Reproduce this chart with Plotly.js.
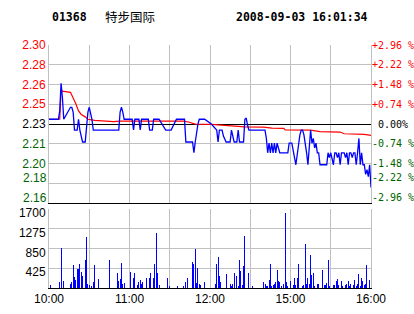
<!DOCTYPE html>
<html>
<head>
<meta charset="utf-8">
<script src="https://cdn.plot.ly/plotly-3.0.1.min.js"></script>
<style>html,body{margin:0;padding:0;background:#fff;}#chart{width:414px;height:314px;}</style>
</head>
<body>
<div id="chart"></div>
<script>
// ---- data ----
const stockCode = "01368";
const stockName = "特步国际";
const stamp = "2008-09-03 16:01:34";
const prevClose = 2.23;
const pctSteps = [-2.96, -2.22, -1.48, -0.74, 0, 0.74, 1.48, 2.22, 2.96];
const priceTickText = ["2.16","2.18","2.20","2.21","2.23","2.25","2.26","2.28","2.30"];
const pctTickText = ["-2.96 %","-2.22 %","-1.48 %","-0.74 %","\u00A00.00%","+0.74 %","+1.48 %","+2.22 %","+2.96 %"];
const timeTickVals = [0,30,60,90,120,150,180,210,240];
const timeTickText = ["10:00","","11:00","","12:00","","15:00","","16:00"];
const volTickVals = [425, 850, 1275, 1700];

// price line (minute index from 10:00 over trading minutes, price)
const priceMin = [0,7,8,9,10,11,16,17,18,19,21,22,23,24,25,27,28,29,30,31,32,33,52,53,54,55,56,62,63,64,67,68,69,74,75,77,78,82,87,91,95,101,102,107,108,109,110,111,112,116,121,124,125,126,127,129,130,132,135,136,137,138,140,141,142,145,146,147,148,149,161,162,163,164,165,166,167,168,169,170,171,172,178,179,181,182,183,184,185,186,187,188,189,190,191,192,193,194,195,196,197,198,199,200,201,202,207,208,209,210,211,212,213,214,215,216,217,218,220,221,222,223,224,225,226,227,228,229,230,231,232,233,234,235,236,237,238,239,240];
const priceVal = [2.234,2.234,2.241,2.264,2.252,2.234,2.244,2.244,2.240,2.225,2.225,2.234,2.225,2.220,2.215,2.215,2.225,2.240,2.244,2.240,2.234,2.225,2.225,2.240,2.244,2.240,2.234,2.234,2.225,2.234,2.234,2.225,2.234,2.234,2.225,2.225,2.234,2.234,2.225,2.225,2.234,2.234,2.215,2.215,2.206,2.215,2.225,2.230,2.234,2.234,2.230,2.226,2.225,2.215,2.225,2.225,2.220,2.215,2.215,2.225,2.220,2.215,2.215,2.225,2.215,2.215,2.234,2.235,2.229,2.225,2.225,2.218,2.206,2.214,2.206,2.214,2.206,2.214,2.206,2.214,2.210,2.206,2.206,2.214,2.214,2.206,2.202,2.196,2.206,2.214,2.221,2.225,2.225,2.221,2.214,2.206,2.196,2.214,2.225,2.214,2.218,2.210,2.214,2.206,2.206,2.196,2.196,2.206,2.202,2.206,2.202,2.196,2.206,2.206,2.202,2.206,2.196,2.206,2.206,2.202,2.206,2.196,2.206,2.206,2.202,2.206,2.206,2.196,2.206,2.218,2.196,2.206,2.196,2.196,2.188,2.192,2.186,2.196,2.177];

// average price line
const avgMin = [0,8,9,10,16,18,20,22,24,27,29,34,48,53,100,104,109,121,141,146,160,166,175,176,195,202,217,220,235,240];
const avgVal = [2.234,2.234,2.259,2.2575,2.2565,2.252,2.247,2.241,2.238,2.236,2.234,2.233,2.232,2.2325,2.2325,2.2317,2.2300,2.2297,2.2283,2.2277,2.2275,2.2266,2.2264,2.2252,2.2250,2.2236,2.2233,2.2219,2.2214,2.2205];

// volume bars
const volMin = [1,8,9,11,16,17,18,19,20,21,22,23,24,25,27,28,29,30,32,33,34,37,45,51,52,53,54,55,56,61,63,64,66,67,68,69,70,73,75,76,78,79,80,81,82,88,90,96,100,102,103,107,108,109,110,111,112,113,116,124,125,126,127,128,132,135,136,137,138,140,141,142,143,144,145,146,149,152,160,161,162,163,164,165,166,167,168,169,170,171,172,173,175,176,177,178,180,182,183,184,185,186,189,190,191,192,193,194,195,196,197,198,200,201,204,205,206,207,208,209,212,213,214,215,216,218,219,221,222,223,224,225,227,228,229,230,231,232,233,234,235,236,237,239,240];
const volVal = [65,122,857,151,86,122,497,245,173,410,410,511,353,259,605,1102,86,65,43,122,497,194,605,324,151,194,540,86,101,346,216,317,65,122,166,86,130,216,216,324,216,518,1188,324,65,216,43,43,43,130,216,562,518,842,108,432,86,65,130,86,518,670,259,130,302,86,43,86,324,259,43,605,367,65,475,1123,324,43,130,86,43,43,173,518,43,65,86,130,389,151,130,43,86,1620,130,43,151,65,216,65,216,518,43,65,950,86,216,86,713,281,324,43,86,86,389,65,65,108,605,43,65,65,151,194,65,151,43,65,86,151,43,86,65,173,43,86,302,43,216,151,65,86,497,173,518];

// ---- derived axis values ----
const priceTickVals = pctSteps.map(p => prevClose * (1 + p / 100));
const red = "#ff0000", green = "#006400", blk = "#000000", grid = "#c0c0c0";
const colorFor = p => p > 0 ? red : (p < 0 ? green : blk);
const span = (t, i) => `<span style="color:${colorFor(pctSteps[i])}">${t}</span>`;
// the two lowest labels on each side are lifted above their grid lines (drawn as annotations)
const liftedIdx = [0, 1];
const priceTicks = priceTickText.map((t, i) => liftedIdx.includes(i) ? "" : span(t, i));
const pctTicks = pctTickText.map((t, i) => liftedIdx.includes(i) ? "" : span(t, i));

const traces = [
  {type: "bar", x: volMin, y: volVal, xaxis: "x", yaxis: "y3", width: 0.75,
   marker: {color: "#0000ff", line: {width: 0}}, hoverinfo: "skip", showlegend: false},
  {type: "scatter", mode: "lines", x: avgMin, y: avgVal, xaxis: "x2", yaxis: "y",
   line: {color: "#ff0000", width: 1.2}, hoverinfo: "skip", showlegend: false},
  {type: "scatter", mode: "lines", x: priceMin, y: priceVal, xaxis: "x2", yaxis: "y",
   line: {color: "#0000ff", width: 1.3}, hoverinfo: "skip", showlegend: false},
  {type: "scatter", mode: "lines", x: [0, 240], y: [0, 0], xaxis: "x2", yaxis: "y2",
   line: {color: "rgba(0,0,0,0)", width: 0}, hoverinfo: "skip", showlegend: false}
];

const labelFont = {family: "Liberation Sans, Arial, sans-serif", size: 12, color: "#000"};
const monoFont = {family: "DejaVu Sans Mono, monospace", size: 10, color: "#000"};

const annotations = [
  {xref: "paper", yref: "paper", x: 0.003, y: 1.1163, xanchor: "left", yanchor: "middle",
   text: "<b>" + stockCode + "</b>", showarrow: false,
   font: {family: "DejaVu Sans Mono, monospace", size: 11.5, color: "#000"}},
  {xref: "paper", yref: "paper", x: 0.168, y: 1.1163, xanchor: "left", yanchor: "middle",
   text: stockName, showarrow: false,
   font: {family: "Noto Sans CJK SC, sans-serif", size: 12.5, color: "#000"}},
  {xref: "paper", yref: "paper", x: 0.997, y: 1.1163, xanchor: "right", yanchor: "middle",
   text: "<b>" + stamp + "</b>", showarrow: false,
   font: {family: "DejaVu Sans Mono, monospace", size: 11.5, color: "#000"}}
];
liftedIdx.forEach(i => {
  annotations.push({xref: "paper", yref: "y", x: 0, y: priceTickVals[i], xanchor: "right", yanchor: "middle",
    xshift: -1, yshift: 5.5, text: priceTickText[i], showarrow: false, borderpad: 0,
    font: Object.assign({}, labelFont, {color: colorFor(pctSteps[i])})});
  annotations.push({xref: "paper", yref: "y2", x: 1, y: pctSteps[i], xanchor: "left", yanchor: "middle",
    xshift: 0, yshift: 5.5, text: pctTickText[i], showarrow: false, borderpad: 0,
    font: Object.assign({}, monoFont, {color: colorFor(pctSteps[i])})});
});

const layout = {
  width: 414, height: 314,
  margin: {l: 49, r: 43, t: 45, b: 26, autoexpand: false},
  paper_bgcolor: "#fff", plot_bgcolor: "#fff",
  showlegend: false, bargap: 0,
  xaxis: {domain: [0, 1], anchor: "y3", range: [0, 240], tickmode: "array",
    tickvals: timeTickVals, ticktext: timeTickText, showgrid: true, gridcolor: grid, gridwidth: 1,
    zeroline: false, showline: true, linecolor: blk, linewidth: 1, ticks: "", tickfont: labelFont,
    fixedrange: true},
  xaxis2: {matches: "x", anchor: "y", range: [0, 240], tickmode: "array", tickvals: timeTickVals,
    showticklabels: false, showgrid: true, gridcolor: grid, gridwidth: 1, zeroline: false,
    showline: true, linecolor: blk, linewidth: 1, ticks: "", fixedrange: true},
  yaxis: {domain: [0.3494, 1], anchor: "x2",
    range: [priceTickVals[0], priceTickVals[priceTickVals.length - 1]],
    tickmode: "array", tickvals: priceTickVals, ticktext: priceTicks,
    showgrid: true, gridcolor: grid, gridwidth: 1, zeroline: false,
    showline: true, linecolor: grid, mirror: true, ticks: "", tickfont: labelFont, fixedrange: true},
  yaxis2: {overlaying: "y", anchor: "x2", side: "right", range: [pctSteps[0], pctSteps[pctSteps.length - 1]],
    tickmode: "array", tickvals: pctSteps, ticktext: pctTicks, showgrid: false,
    zeroline: true, zerolinecolor: blk, zerolinewidth: 1, showline: false, ticks: "",
    tickfont: monoFont, fixedrange: true},
  yaxis3: {domain: [0, 0.3247], anchor: "x", range: [0, 1700], tickmode: "array", tickvals: volTickVals,
    showgrid: true, gridcolor: grid, gridwidth: 1, zeroline: false, ticklabelshift: 4,
    showline: true, linecolor: grid, mirror: true, ticks: "", tickfont: labelFont, fixedrange: true},
  annotations: annotations
};

Plotly.newPlot("chart", traces, layout, {staticPlot: true, displayModeBar: false});
</script>
</body>
</html>
